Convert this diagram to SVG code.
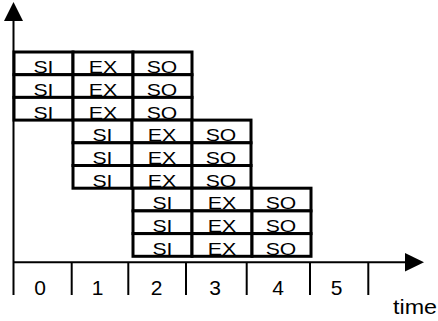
<svg xmlns="http://www.w3.org/2000/svg" width="438" height="321" viewBox="0 0 438 321">
<style>
.cell{fill:#fff;stroke:#000;stroke-width:3}
.t{font-family:"Liberation Sans",Arial,sans-serif;font-size:17px;text-anchor:middle;fill:#000}
.ax{stroke:#000;stroke-width:2;fill:none}
.d{font-family:"Liberation Sans",Arial,sans-serif;font-size:21px;text-anchor:middle;fill:#000}
</style>
<defs>
<g id="row">
<rect class="cell" x="0" y="0" width="59" height="22.7"/>
<rect class="cell" x="59" y="0" width="60" height="22.7"/>
<rect class="cell" x="119" y="0" width="59" height="22.7"/>
<text class="t" x="29.5" y="21.2" textLength="20" lengthAdjust="spacingAndGlyphs">SI</text>
<text class="t" x="89" y="21.2" textLength="28.5" lengthAdjust="spacingAndGlyphs">EX</text>
<text class="t" x="148" y="21.2" textLength="30.5" lengthAdjust="spacingAndGlyphs">SO</text>
</g>
</defs>
<g id="axes">
<line class="ax" x1="13.5" y1="20" x2="13.5" y2="295"/>
<polygon points="13.5,2 4,21 23,21" fill="#000"/>
<line class="ax" x1="13.5" y1="262.3" x2="406" y2="262.3"/>
<polygon points="424,262.3 405,253 405,271.6" fill="#000"/>
<line class="ax" x1="71.7" y1="262.3" x2="71.7" y2="295"/>
<line class="ax" x1="128.3" y1="262.3" x2="128.3" y2="295"/>
<line class="ax" x1="186" y1="262.3" x2="186" y2="295"/>
<line class="ax" x1="246.7" y1="262.3" x2="246.7" y2="295"/>
<line class="ax" x1="310" y1="262.3" x2="310" y2="295"/>
<line class="ax" x1="368.3" y1="262.3" x2="368.3" y2="295"/>
<text class="d" x="40" y="294.5">0</text>
<text class="d" x="97.7" y="294.5">1</text>
<text class="d" x="156.7" y="294.5">2</text>
<text class="d" x="215" y="294.5">3</text>
<text class="d" x="278" y="294.5">4</text>
<text class="d" x="336.7" y="294.5">5</text>
<text x="393" y="314" font-family="Liberation Sans, Arial, sans-serif" font-size="20" textLength="44" lengthAdjust="spacingAndGlyphs">time</text>
</g>
<g id="group1">
<use href="#row" x="14" y="52"/>
<use href="#row" x="14" y="74.7"/>
<use href="#row" x="14" y="97.4"/>
</g>
<g id="group2">
<use href="#row" x="73" y="120.1"/>
<use href="#row" x="73" y="142.8"/>
<use href="#row" x="73" y="165.5"/>
</g>
<g id="group3">
<use href="#row" x="133" y="188.2"/>
<use href="#row" x="133" y="210.9"/>
<use href="#row" x="133" y="233.6"/>
</g>
</svg>
